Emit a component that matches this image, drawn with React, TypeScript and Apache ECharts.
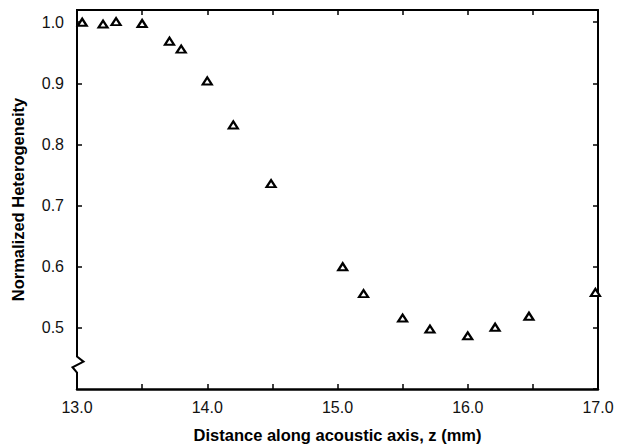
import React, { useEffect, useRef } from "react";
import * as echarts from "echarts";

const distanceMm = [13.04, 13.2, 13.3, 13.5, 13.71, 13.8, 14.0, 14.2, 14.49, 15.04, 15.2, 15.5, 15.71, 16.0, 16.21, 16.47, 16.98];
const heterogeneity = [1.0, 0.997, 1.001, 0.998, 0.969, 0.956, 0.904, 0.832, 0.736, 0.6, 0.556, 0.516, 0.498, 0.487, 0.501, 0.519, 0.558];
const xTickLabels = ["13.0", "14.0", "15.0", "16.0", "17.0"];
const yTickLabels = ["0.5", "0.6", "0.7", "0.8", "0.9", "1.0"];
const xTitle = "Distance along acoustic axis, z (mm)";
const yTitle = "Normalized Heterogeneity";
const xRange = [13, 17];
const yRange = [0.4, 1.02];
const breakValues = [0.453, 0.4448, 0.4356, 0.427];

export default function App() {
  const ref = useRef<HTMLDivElement>(null);
  useEffect(() => {
    if (!ref.current) return;
    const chart = echarts.init(ref.current, undefined, { renderer: "svg" });
    const font = "Liberation Sans, Arial, sans-serif";
    const labelStyle = { fontSize: 16, color: "#111", fontFamily: font };
    const titleStyle = { fontSize: 16.5, fontWeight: "bold", color: "#000", fontFamily: font };
    const tick = { show: true, inside: true, length: 5, lineStyle: { color: "#000", width: 1.5 } };
    const line = { show: true, lineStyle: { color: "#000", width: 2 } };
    chart.setOption({
      animation: false,
      backgroundColor: "#fff",
      grid: { left: 77, right: 19, top: 10, bottom: 55, containLabel: false },
      xAxis: [
        {
          type: "value",
          position: "bottom",
          min: xRange[0],
          max: xRange[1],
          interval: 0.5,
          axisLine: { show: true, lineStyle: { color: "#000", width: 2.5 } },
          axisTick: tick,
          splitLine: { show: false },
          axisLabel: {
            ...labelStyle,
            margin: 10,
            formatter: (v: number) => {
              const s = v.toFixed(1);
              return xTickLabels.includes(s) ? s : "";
            },
          },
          name: xTitle,
          nameLocation: "middle",
          nameGap: 37,
          nameTextStyle: titleStyle,
        },
        {
          type: "value",
          position: "top",
          min: xRange[0],
          max: xRange[1],
          interval: 0.5,
          axisLine: line,
          axisTick: tick,
          splitLine: { show: false },
          axisLabel: { show: false },
        },
      ],
      yAxis: [
        {
          type: "value",
          position: "left",
          min: yRange[0],
          max: yRange[1],
          interval: 0.1,
          axisLine: { show: false },
          axisTick: tick,
          splitLine: { show: false },
          axisLabel: {
            ...labelStyle,
            margin: 13,
            showMinLabel: false,
            showMaxLabel: false,
            formatter: (v: number) => {
              const s = v.toFixed(1);
              return yTickLabels.includes(s) ? s : "";
            },
          },
          name: yTitle,
          nameLocation: "middle",
          nameGap: 51,
          nameRotate: 90,
          nameTextStyle: titleStyle,
        },
        {
          type: "value",
          position: "right",
          min: yRange[0],
          max: yRange[1],
          interval: 0.1,
          axisLine: line,
          axisTick: tick,
          splitLine: { show: false },
          axisLabel: { show: false },
        },
      ],
      series: [
        {
          type: "scatter",
          data: distanceMm.map((x, i) => [x, heterogeneity[i]]),
          symbol: "triangle",
          symbolSize: [9, 7],
          itemStyle: { color: "#fff", borderColor: "#000", borderWidth: 2.2, opacity: 1 },
        },
      ],
    });

    const px = (y: number) => chart.convertToPixel({ gridIndex: 0 }, [xRange[0], y]) as number[];
    const top = px(yRange[1]);
    const bottom = px(yRange[0]);
    const b = breakValues.map(px);
    const x0 = top[0];
    chart.setOption({
      graphic: [
        {
          type: "polyline",
          z: 100,
          shape: {
            points: [
              [x0, top[1] - 1],
              [x0, b[0][1]],
              [x0 + 6.5, b[1][1]],
              [x0 - 4.5, b[2][1]],
              [x0, b[3][1]],
              [x0, bottom[1] + 1],
            ],
          },
          style: { stroke: "#000", lineWidth: 2, fill: null },
        },
      ],
    });
    return () => chart.dispose();
  }, []);
  return (
    <div
      ref={ref}
      style={{ position: "fixed", left: 0, top: 0, width: 617, height: 448, background: "#fff" }}
    />
  );
}
